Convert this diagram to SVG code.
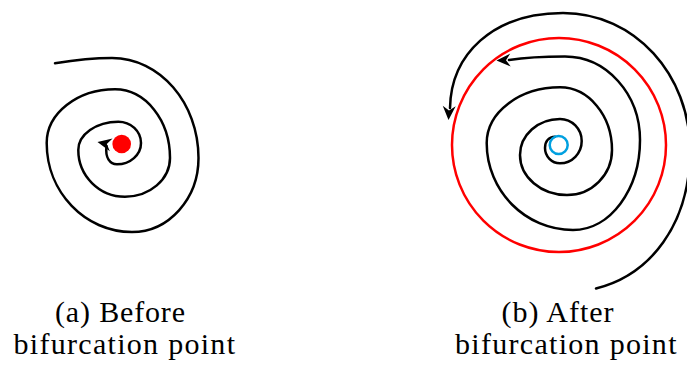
<svg xmlns="http://www.w3.org/2000/svg" width="687" height="365" viewBox="0 0 687 365">
  <style>
    .traj { fill: none; stroke: #000; stroke-width: 2.5; stroke-linecap: round; stroke-linejoin: round; }
    .cycle { fill: none; stroke: #FF0000; stroke-width: 2.5; }
    .unstable { fill: none; stroke: #00A0E0; stroke-width: 2.5; }
    .head { fill: #000; }
    .label { font-family: "Liberation Serif", "Times New Roman", serif; font-size: 30px; fill: #000; }
  </style>
  <defs>
    <path id="ah" class="head" d="M0,0 L-14,-6.5 L-9.5,0 L-14,6.5 Z"/>
  </defs>
  <rect width="687" height="365" fill="#fff"/>

  <g id="panel-a">
    <path class="traj" d="M55,63.3 C75,60 95,58 112,58 C159.7,58 198.5,102.8 198.5,158 C198.5,198.8 168.7,232 132,232 C84.9,232 46.7,192.1 46.7,143 C46.7,113.4 77.3,89.3 115,89.3 C145.4,89.3 170,120.1 170,158 C170,179.4 149.8,196.7 125,196.7 C99.2,196.7 78.3,175.8 78.3,150 C78.3,134.4 96.2,121.7 118.3,121.7 C130.8,121.7 141,131.2 141,143 C141,154.8 130.2,164.3 117,164.3 C110,164.3 105,158 106.5,146"/>
    <use href="#ah" transform="translate(97.5,142) rotate(192)"/>
    <circle id="stable-point" cx="121.7" cy="144" r="9.3" fill="#FF0000"/>
  </g>

  <g id="panel-b">
    <circle id="limit-cycle" class="cycle" cx="559" cy="145" r="107"/>
    <path class="traj" d="M596,288.5 C650,275 690,225 690,150 C690,75 635,13 563,13 C492,13 451,55 450,108"/>
    <use href="#ah" transform="translate(448.5,120) rotate(93)"/>
    <path class="traj" d="M509,60 C525,57.5 545,56.5 565,56.5 C606.4,56.5 640,93.9 640,140 C640,189.7 610,230 573,230 C525.4,230 486.7,191 486.7,143 C486.7,112.3 519.5,87.3 560,87.3 C588.5,87.3 612,115.4 612,150 C612,174.8 591.8,195 567,195 C541,195 520,177 520,155 C520,135.1 537.9,119 560,119 C572,119 581.7,128.9 581.7,141 C581.7,153.3 572,163.3 560,163.3 C551.7,163.3 545,156.4 545,148 C545,141 549,137 555,136.7"/>
    <use href="#ah" transform="translate(496.5,60.5) rotate(178)"/>
    <circle id="unstable-point" class="unstable" cx="558.7" cy="145" r="9"/>
  </g>

  <g id="labels">
    <text class="label" x="55" y="321.5" textLength="130" lengthAdjust="spacing">(a) Before</text>
    <text class="label" x="13.5" y="353.5" textLength="221.5" lengthAdjust="spacing">bifurcation point</text>
    <text class="label" x="501.5" y="321.5" textLength="112" lengthAdjust="spacing">(b) After</text>
    <text class="label" x="455" y="353.5" textLength="221.5" lengthAdjust="spacing">bifurcation point</text>
  </g>
</svg>
